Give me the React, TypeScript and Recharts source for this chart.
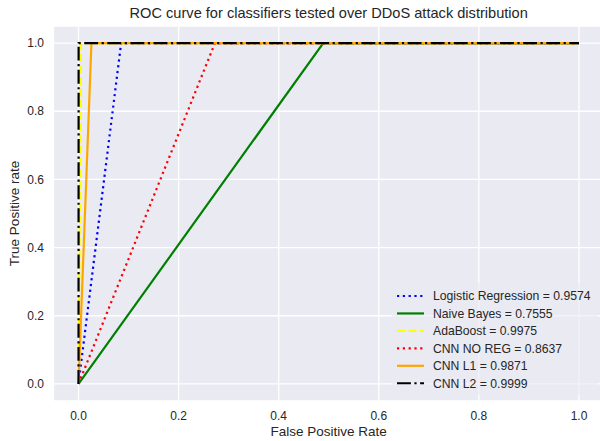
import { LineChart, Line, XAxis, YAxis, CartesianGrid } from "recharts";

// ROC points (false positive rate, true positive rate) per classifier
const logisticRegression = [{ x: 0, y: 0 }, { x: 0.0852, y: 1 }, { x: 1, y: 1 }];
const naiveBayes = [{ x: 0, y: 0 }, { x: 0.489, y: 1 }, { x: 1, y: 1 }];
const adaBoost = [{ x: 0, y: 0 }, { x: 0.005, y: 1 }, { x: 1, y: 1 }];
const cnnNoReg = [{ x: 0, y: 0 }, { x: 0.2726, y: 1 }, { x: 1, y: 1 }];
const cnnL1 = [{ x: 0, y: 0 }, { x: 0.0258, y: 1 }, { x: 1, y: 1 }];
const cnnL2 = [{ x: 0, y: 0 }, { x: 0.0002, y: 1 }, { x: 1, y: 1 }];

const seriesNames = ["Logistic Regression", "Naive Bayes", "AdaBoost", "CNN NO REG", "CNN L1", "CNN L2"];
const aucScores = ["0.9574", "0.7555", "0.9975", "0.8637", "0.9871", "0.9999"];
const axisTicks = [0, 0.2, 0.4, 0.6, 0.8, 1.0];

const DOTTED = "2.2 3.6";
const DASHED = "8 3.5";
const DASH_DOT = "13.9 3.5 2.2 3.5";

const series = [
  { data: logisticRegression, color: "#0000ff", dash: DOTTED },
  { data: naiveBayes, color: "#008000", dash: undefined },
  { data: adaBoost, color: "#ffff00", dash: DASHED },
  { data: cnnNoReg, color: "#ff0000", dash: DOTTED },
  { data: cnnL1, color: "#ffa500", dash: undefined },
  { data: cnnL2, color: "#000000", dash: DASH_DOT },
];

const font = "'Liberation Sans', Arial, sans-serif";
const textColor = "#262626";
const tick = { fill: textColor, fontSize: 12, fontFamily: font };

export default function App() {
  return (
    <div style={{ position: "absolute", left: 0, top: 0, width: 600, height: 441, overflow: "hidden", background: "#fff" }}>
      <LineChart width={604} height={441} margin={{ top: 26, right: 0, bottom: 0, left: 0 }}>
        <CartesianGrid stroke="#ffffff" strokeWidth={1.3} fill="#EAEAF2" fillOpacity={1} />
        <XAxis
          type="number"
          dataKey="x"
          domain={[-0.05, 1.05]}
          ticks={axisTicks}
          tickFormatter={(v: number) => v.toFixed(1)}
          tick={tick}
          axisLine={false}
          tickLine={false}
          tickSize={0}
          tickMargin={10}
          height={40}
          allowDataOverflow
        />
        <YAxis
          type="number"
          domain={[-0.05, 1.05]}
          ticks={axisTicks}
          tickFormatter={(v: number) => v.toFixed(1)}
          tick={tick}
          axisLine={false}
          tickLine={false}
          tickSize={0}
          tickMargin={9.5}
          width={53.5}
          allowDataOverflow
        />
        {series.map((s, i) => (
          <Line
            key={seriesNames[i]}
            data={s.data}
            dataKey="y"
            type="linear"
            stroke={s.color}
            strokeWidth={2.2}
            strokeDasharray={s.dash}
            dot={false}
            activeDot={false}
            isAnimationActive={false}
          />
        ))}
      </LineChart>

      {/* title, axis labels and legend */}
      <svg width={600} height={441} style={{ position: "absolute", left: 0, top: 0, pointerEvents: "none" }}>
        <text x={328.7} y={18} textAnchor="middle" fontFamily={font} fontSize={14.6} fill={textColor}>
          ROC curve for classifiers tested over DDoS attack distribution
        </text>
        <text x={328.7} y={436} textAnchor="middle" fontFamily={font} fontSize={13.5} fill={textColor}>
          False Positive Rate
        </text>
        <text
          x={19}
          y={213.5}
          textAnchor="middle"
          fontFamily={font}
          fontSize={13.5}
          fill={textColor}
          transform="rotate(-90 19 213.5)"
        >
          True Positive rate
        </text>

        <rect x={392} y={283} width={206} height={112} rx={3} fill="#EAEAF2" fillOpacity={0.6} />
        {series.map((s, i) => {
          const y = 296 + i * 17.45;
          return (
            <g key={seriesNames[i]}>
              <line x1={397} x2={424} y1={y} y2={y} stroke={s.color} strokeWidth={2.2} strokeDasharray={s.dash} />
              <text x={433} y={y + 4.3} fontFamily={font} fontSize={12.2} fill={textColor}>
                {seriesNames[i]} = {aucScores[i]}
              </text>
            </g>
          );
        })}
      </svg>
    </div>
  );
}
